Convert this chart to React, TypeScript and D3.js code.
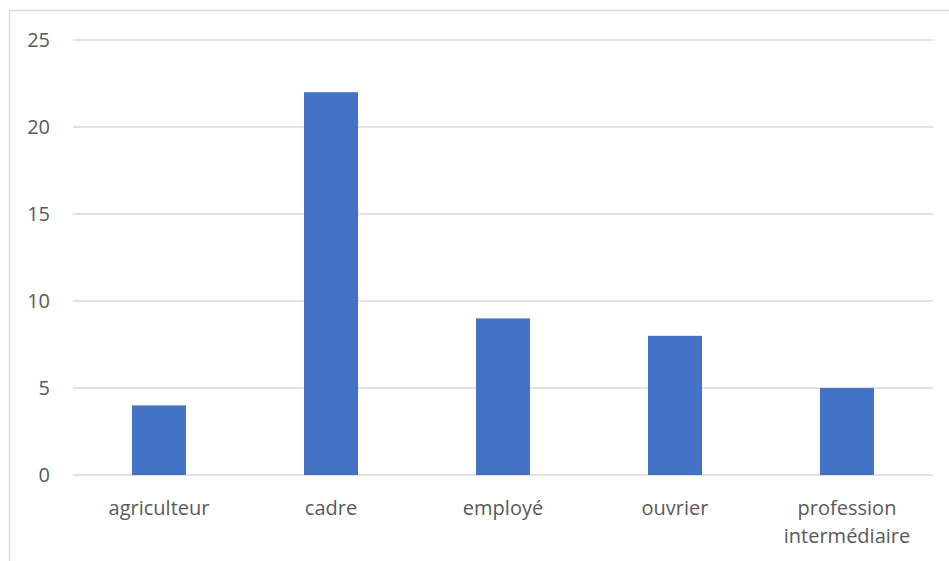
import React, { useEffect, useRef } from "react";
import * as d3 from "d3";

const categories = ["agriculteur", "cadre", "employé", "ouvrier", "profession intermédiaire"];
const values = [4, 22, 9, 8, 5];
const yTicks = [0, 5, 10, 15, 20, 25];

const W = 949;
const H = 561;

const Chart = () => {
  const ref = useRef<SVGSVGElement>(null);

  useEffect(() => {
    if (!ref.current) return;
    const svg = d3.select(ref.current);
    svg.selectAll("*").remove();

    const left = 73;
    const right = 933;
    const top = 40;
    const bottom = 475;

    const x = d3.scaleBand().domain(categories).range([left, right]).padding(0);
    const y = d3.scaleLinear().domain([0, 25]).range([bottom, top]);
    const barW = x.bandwidth() * 0.314;

    // chart frame (only left and top visible)
    svg.append("line").attr("x1", 9.5).attr("x2", 9.5).attr("y1", 10).attr("y2", H)
      .attr("stroke", "#d9d9d9").attr("stroke-width", 1.5);
    svg.append("line").attr("x1", 9).attr("x2", W).attr("y1", 10.5).attr("y2", 10.5)
      .attr("stroke", "#d9d9d9").attr("stroke-width", 1.5);

    // gridlines
    svg.append("g")
      .selectAll("line")
      .data(yTicks)
      .enter()
      .append("line")
      .attr("x1", left)
      .attr("x2", right)
      .attr("y1", (d) => y(d))
      .attr("y2", (d) => y(d))
      .attr("stroke", "#d9d9d9")
      .attr("stroke-width", 1.5);

    // y labels
    svg.append("g")
      .selectAll("text")
      .data(yTicks)
      .enter()
      .append("text")
      .attr("x", 50)
      .attr("y", (d) => y(d))
      .attr("dy", "0.35em")
      .attr("text-anchor", "end")
      .attr("fill", "#595959")
      .attr("font-family", "'Open Sans', sans-serif")
      .attr("font-size", 20)
      .text((d) => d);

    // bars
    svg.append("g")
      .selectAll("rect")
      .data(values)
      .enter()
      .append("rect")
      .attr("x", (_d, i) => (x(categories[i]) as number) + x.bandwidth() / 2 - barW / 2)
      .attr("y", (d) => y(d))
      .attr("width", barW)
      .attr("height", (d) => y(0) - y(d))
      .attr("fill", "#4472c4");

    // x labels
    const xl = svg.append("g")
      .selectAll("text")
      .data(categories)
      .enter()
      .append("text")
      .attr("x", (d) => (x(d) as number) + x.bandwidth() / 2)
      .attr("y", 515)
      .attr("text-anchor", "middle")
      .attr("fill", "#595959")
      .attr("font-family", "'Open Sans', sans-serif")
      .attr("font-size", 20);

    xl.each(function (d) {
      const words = d.split(" ");
      const t = d3.select(this);
      words.forEach((w, i) => {
        t.append("tspan")
          .attr("x", (x(d) as number) + x.bandwidth() / 2)
          .attr("dy", i === 0 ? 0 : 28)
          .text(w);
      });
    });
  }, []);

  return (
    <svg
      ref={ref}
      width={W}
      height={H}
      style={{ position: "absolute", left: 0, top: 0, background: "#fff" }}
    />
  );
};

function App() {
  return (
    <div>
      <Chart />
    </div>
  );
}

export default App;
